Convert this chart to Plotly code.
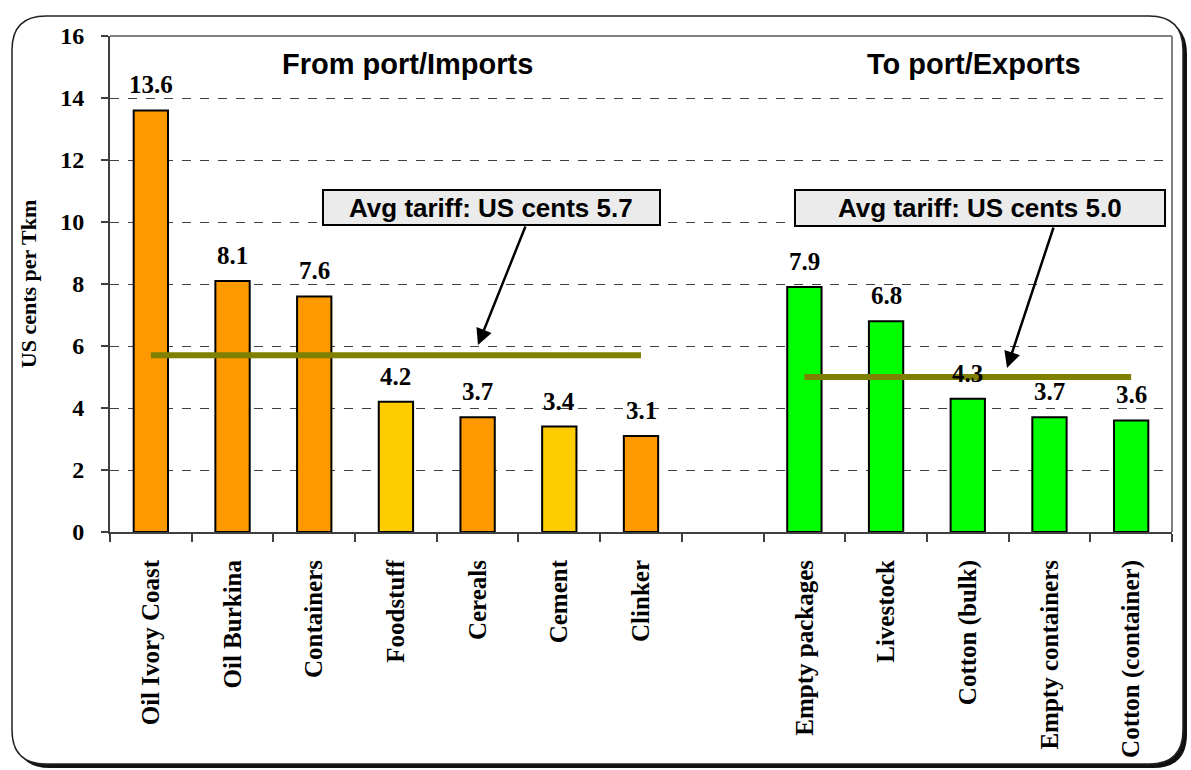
import plotly.graph_objects as go

# ---- data ----
categories = ["Oil Ivory Coast", "Oil Burkina", "Containers", "Foodstuff", "Cereals",
              "Cement", "Clinker", " ", "Empty packages", "Livestock", "Cotton (bulk)",
              "Empty containers", "Cotton (container)"]
values = [13.6, 8.1, 7.6, 4.2, 3.7, 3.4, 3.1, None, 7.9, 6.8, 4.3, 3.7, 3.6]
bar_colors = ["#FF9900", "#FF9900", "#FF9900", "#FFCC00", "#FF9900", "#FFCC00", "#FF9900",
              "#FFFFFF", "#00FF00", "#00FF00", "#00FF00", "#00FF00", "#00FF00"]
import_avg = 5.7
export_avg = 5.0
import_span = ["Oil Ivory Coast", "Clinker"]
export_span = ["Empty packages", "Cotton (container)"]
y_ticks = [0, 2, 4, 6, 8, 10, 12, 14, 16]

W, H = 1191, 770
ML, MR, MT, MB = 110, 19, 36, 238
PW = W - ML - MR
PH = H - MT - MB


def px(x):
    return (x - ML) / PW


def py(y):
    return (H - MB - y) / PH


SERIF = "Liberation Serif"
SANS = "Liberation Sans"

fig = go.Figure()
fig.add_trace(go.Bar(
    x=categories, y=values,
    marker=dict(color=bar_colors, line=dict(color="black", width=2)),
    cliponaxis=False,
    hoverinfo="x+y",
    showlegend=False,
))
fig.add_trace(go.Scatter(
    x=import_span, y=[import_avg, import_avg], mode="lines",
    line=dict(color="#808000", width=6), showlegend=False, hoverinfo="skip"))
fig.add_trace(go.Scatter(
    x=export_span, y=[export_avg, export_avg], mode="lines",
    line=dict(color="#808000", width=6), showlegend=False, hoverinfo="skip"))


def frame_path(L, T, R, B, r):
    return (f"M {px(L + r)},{py(T)} L {px(R - r)},{py(T)} Q {px(R)},{py(T)} {px(R)},{py(T + r)} "
            f"L {px(R)},{py(B - r)} Q {px(R)},{py(B)} {px(R - r)},{py(B)} "
            f"L {px(L + r)},{py(B)} Q {px(L)},{py(B)} {px(L)},{py(B - r)} "
            f"L {px(L)},{py(T + r)} Q {px(L)},{py(T)} {px(L + r)},{py(T)} Z")


shapes = [
    dict(type="path", xref="paper", yref="paper", layer="below",
         path=frame_path(16, 20, 1187, 768, 34), fillcolor="#111111", line=dict(width=0)),
    dict(type="path", xref="paper", yref="paper", layer="below",
         path=frame_path(12, 16, 1183, 764, 34), fillcolor="white",
         line=dict(color="#222222", width=1.5)),
    # plot area border top/right
    dict(type="line", xref="paper", yref="paper", x0=0, x1=1, y0=1, y1=1,
         line=dict(color="#808080", width=2)),
    dict(type="line", xref="paper", yref="paper", x0=1, x1=1, y0=0, y1=1,
         line=dict(color="#808080", width=2)),
    # callout boxes
    dict(type="rect", xref="paper", yref="paper", x0=px(323), x1=px(660), y0=py(225), y1=py(190),
         fillcolor="#EBEBEB", line=dict(color="black", width=2)),
    dict(type="rect", xref="paper", yref="paper", x0=px(795), x1=px(1165), y0=py(226), y1=py(190),
         fillcolor="#EBEBEB", line=dict(color="black", width=2)),
]

annotations = [
    dict(text="From port/Imports", x=px(407), y=py(64), xref="paper", yref="paper",
         xanchor="center", yanchor="middle", showarrow=False,
         font=dict(family=SANS, size=29, color="black", weight="bold")),
    dict(text="To port/Exports", x=px(974), y=py(64), xref="paper", yref="paper",
         xanchor="center", yanchor="middle", showarrow=False,
         font=dict(family=SANS, size=29, color="black", weight="bold")),
    dict(text="Avg tariff: US cents 5.7", x=px(491), y=py(208), xref="paper", yref="paper",
         xanchor="center", yanchor="middle", showarrow=False,
         font=dict(family=SANS, size=26, color="black", weight="bold")),
    dict(text="Avg tariff: US cents 5.0", x=px(980), y=py(208), xref="paper", yref="paper",
         xanchor="center", yanchor="middle", showarrow=False,
         font=dict(family=SANS, size=26, color="black", weight="bold")),
    dict(text="", x=px(478), y=py(345), xref="paper", yref="paper", showarrow=True,
         ax=48, ay=-120, arrowhead=2, arrowsize=1.3, arrowwidth=2.5, arrowcolor="black"),
    dict(text="", x=px(1007), y=py(368), xref="paper", yref="paper", showarrow=True,
         ax=47, ay=-142, arrowhead=2, arrowsize=1.3, arrowwidth=2.5, arrowcolor="black"),
]

# value labels above bars
for cat, v in zip(categories, values):
    if v is None:
        continue
    annotations.append(dict(
        text="%.1f" % v, x=cat, y=v, xref="x", yref="y",
        xanchor="center", yanchor="bottom", yshift=10, showarrow=False,
        font=dict(family=SERIF, size=25, color="black", weight="bold")))

fig.update_layout(
    width=W, height=H,
    margin=dict(l=ML, r=MR, t=MT, b=MB, pad=0, autoexpand=False),
    paper_bgcolor="white", plot_bgcolor="rgba(0,0,0,0)",
    bargap=0.58,
    shapes=shapes, annotations=annotations,
    showlegend=False,
)
fig.update_xaxes(
    type="category", categoryorder="array", categoryarray=categories,
    tickangle=-90, tickson="boundaries", ticks="outside", ticklen=8, tickwidth=1.5,
    tickcolor="#404040", showline=True, linecolor="#404040", linewidth=2,
    showgrid=False, ticklabelstandoff=16, automargin=False,
    tickfont=dict(family=SERIF, size=25, color="black", weight="bold"),
)
fig.update_yaxes(
    range=[0, 16], tickvals=y_ticks, ticks="outside", ticklen=7, tickwidth=1.5,
    tickcolor="#404040", showline=True, linecolor="#404040", linewidth=2,
    showgrid=True, gridcolor="#404040", gridwidth=1, griddash="dash", zeroline=False,
    ticklabelstandoff=12, automargin=False,
    tickfont=dict(family=SERIF, size=24, color="black", weight="bold"),
    title=dict(text="US cents per Tkm", standoff=18,
               font=dict(family=SERIF, size=22, color="black", weight="bold")),
)

fig.write_html(
    "out.html",
    config={"displayModeBar": False},
    post_script="document.body.style.margin='0px';document.body.style.padding='0px';",
)
